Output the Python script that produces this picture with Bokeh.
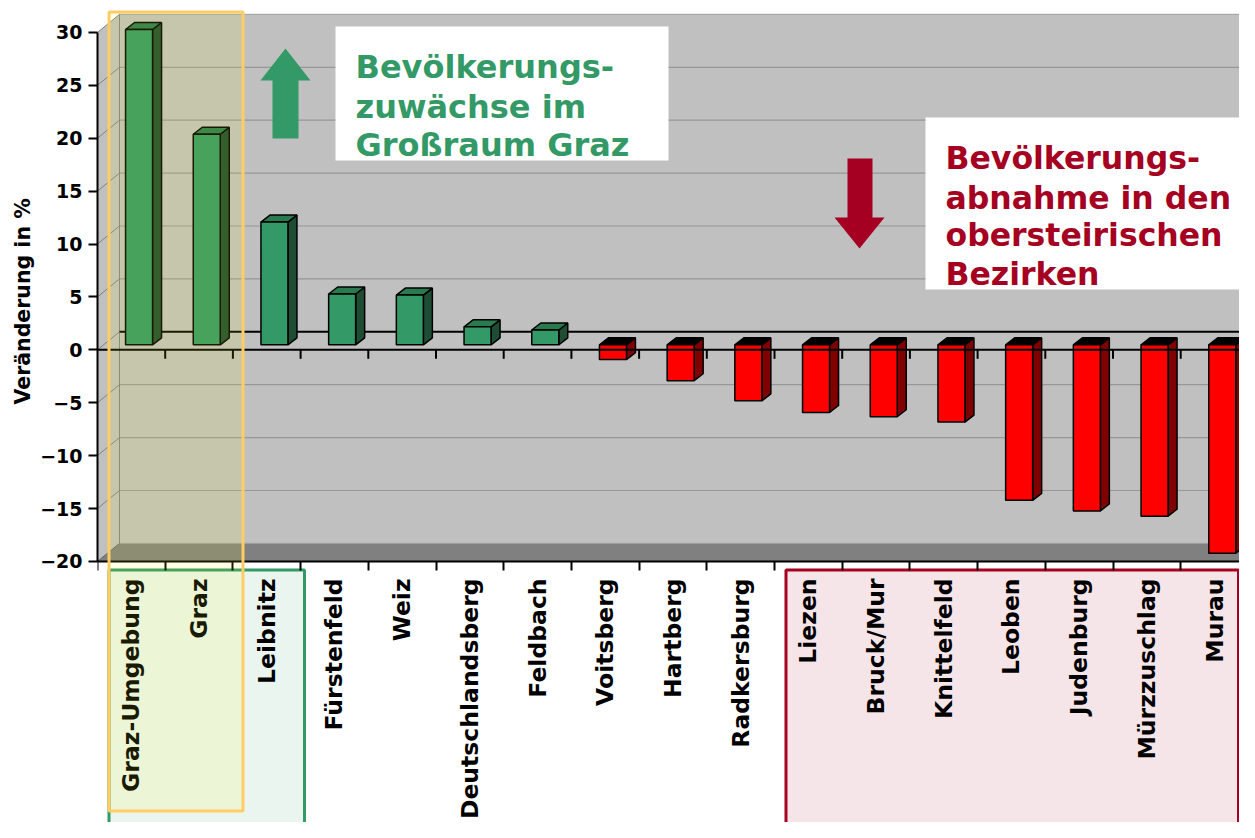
import math
from bokeh.plotting import figure
from bokeh.models import Range1d, FixedTicker, BoxAnnotation, Title
from bokeh.embed import file_html
from bokeh.resources import INLINE
from bokeh.core.properties import value

# ---------------- data ----------------
districts = ["Graz-Umgebung", "Graz", "Leibnitz", "Fürstenfeld", "Weiz",
             "Deutschlandsberg", "Feldbach", "Voitsberg", "Hartberg",
             "Radkersburg", "Liezen", "Bruck/Mur", "Knittelfeld", "Leoben",
             "Judenburg", "Mürzzuschlag", "Murau"]
change_pct = [29.8, 19.9, 11.6, 4.8, 4.7, 1.7, 1.4, -1.4, -3.4, -5.3,
              -6.4, -6.8, -7.3, -14.7, -15.7, -16.2, -19.7]
y_ticks = [-20, -15, -10, -5, 0, 5, 10, 15, 20, 25, 30]
y_title = "Veränderung in %"
text_growth = ["Bevölkerungs-", "zuwächse im", "Großraum Graz"]
text_decline = ["Bevölkerungs-", "abnahme in den", "obersteirischen", "Bezirken"]

GREEN = "#339966"
GREEN_SIDE = "#1E4D33"
GREEN_TOP = "#2A7A50"
RED = "#FF0000"
RED_SIDE = "#800000"
CRIMSON = "#A50021"
FONT_NAME = "DejaVu Sans"
FONT = value(FONT_NAME)

# ---------------- geometry helpers (layout pixels -> data) ----------------
PXC = 67.7      # px per category
PXV = 10.58     # px per percent
def X(px):
    return -0.5 + (px - 97) / PXC
def Y(py):
    return (349.3 - py) / PXV

W, H = 1239, 822
n = len(districts)
XR = n + 1.0                       # far right (clipped)
wall_dx, wall_dy = 22 / PXC, 18 / PXV
bar_off, bar_half = 7.7 / PXC, 13.5 / PXC
bar_dx, bar_dy = 9 / PXC, 7 / PXV
bar_base = 5 / PXV

p = figure(frame_width=W - 97, frame_height=H,
           x_range=Range1d(-0.5, X(W)), y_range=Range1d(Y(H), Y(0)),
           output_backend="svg", toolbar_location=None,
           min_border_left=97, min_border_right=0, min_border_top=0,
           min_border_bottom=0)
p.xgrid.visible = False
p.ygrid.visible = False
p.outline_line_color = None
p.background_fill_color = "white"
p.border_fill_color = "white"

# ---------------- highlight frames below the axis ----------------
p.add_layout(BoxAnnotation(left=X(108.5), right=X(304), top=Y(569.5), bottom=Y(900),
                           fill_color=GREEN, fill_alpha=0.1,
                           line_color=GREEN, line_alpha=1.0, line_width=3,
                           level="underlay"))
p.add_layout(BoxAnnotation(left=X(785.5), right=X(1238), top=Y(569.5), bottom=Y(900),
                           fill_color=CRIMSON, fill_alpha=0.1,
                           line_color=CRIMSON, line_alpha=1.0, line_width=3,
                           level="underlay"))

# ---------------- 3D walls ----------------
wl = -0.5 + wall_dx
p.quad(left=[wl], right=[XR], bottom=[-20 + wall_dy], top=[30 + wall_dy],
       fill_color="#C0C0C0", line_color=None)
p.patch([-0.5, -0.5, wl, wl], [-20, 30, 30 + wall_dy, -20 + wall_dy],
        fill_color="#C0C0C0", line_color=None)
p.patch([-0.5, XR, XR, wl], [-20, -20, -20 + wall_dy, -20 + wall_dy],
        fill_color="#808080", line_color=None)
p.segment(x0=[wl], y0=[-20 + wall_dy], x1=[wl], y1=[30 + wall_dy],
          line_color="#808080", line_width=1)
p.segment(x0=[wl], y0=[-20 + wall_dy], x1=[XR], y1=[-20 + wall_dy],
          line_color="#9A9A9A", line_width=1)
p.segment(x0=[-0.5], y0=[-20], x1=[wl], y1=[-20 + wall_dy],
          line_color="#606060", line_width=1)

grid_v = [v for v in y_ticks if v not in (-20, 0)]
p.segment(x0=[wl] * len(grid_v), y0=[v + wall_dy for v in grid_v],
          x1=[XR] * len(grid_v), y1=[v + wall_dy for v in grid_v],
          line_color="#6E6E6E", line_width=1.2, line_dash="1 1")
side_v = [v for v in y_ticks if v != -20]
p.segment(x0=[-0.5] * len(side_v), y0=side_v,
          x1=[wl] * len(side_v), y1=[v + wall_dy for v in side_v],
          line_color="#808080", line_width=1)
# back zero line
p.segment(x0=[wl], y0=[wall_dy], x1=[XR], y1=[wall_dy],
          line_color="black", line_width=2)

# ---------------- 3D bars ----------------
front_xs, front_ys, front_c = [], [], []
top_xs, top_ys, top_c = [], [], []
side_xs, side_ys, side_c = [], [], []
for i, v in enumerate(change_pct):
    xl = i + bar_off - bar_half
    xr = i + bar_off + bar_half
    y0 = bar_base
    y1 = bar_base + v
    lo, hi = min(y0, y1), max(y0, y1)
    pos = v >= 0
    front_xs.append([xl, xr, xr, xl]); front_ys.append([lo, lo, hi, hi])
    front_c.append(GREEN if pos else RED)
    side_xs.append([xr, xr + bar_dx, xr + bar_dx, xr])
    side_ys.append([lo, lo + bar_dy, hi + bar_dy, hi])
    side_c.append(GREEN_SIDE if pos else RED_SIDE)
    top_xs.append([xl, xr, xr + bar_dx, xl + bar_dx])
    top_ys.append([hi, hi, hi + bar_dy, hi + bar_dy])
    top_c.append(GREEN_TOP if pos else "#000000")

p.patches(side_xs, side_ys, fill_color=side_c, line_color="black", line_width=1.5)
p.patches(top_xs, top_ys, fill_color=top_c, line_color="black", line_width=1.5)
p.patches(front_xs, front_ys, fill_color=front_c, line_color="black", line_width=1.5)

# front zero line with category ticks
p.segment(x0=[-0.5], y0=[0], x1=[XR], y1=[0], line_color="black", line_width=2)
tick_x = [i + 0.5 for i in range(n)]
p.segment(x0=tick_x, y0=[0] * n, x1=tick_x, y1=[-9 / PXV] * n,
          line_color="black", line_width=2)

# ---------------- call-out boxes and arrows ----------------
p.quad(left=[X(335)], right=[X(668)], top=[Y(26)], bottom=[Y(160)],
       fill_color="white", line_color=None)
p.quad(left=[X(925)], right=[XR], top=[Y(117)], bottom=[Y(289)],
       fill_color="white", line_color=None)
p.text(x=[X(355)] * 3, y=[Y(66.7), Y(106), Y(144.5)], text=text_growth,
       text_font=FONT, text_font_size="32px", text_font_style="bold",
       text_color=GREEN, text_baseline="alphabetic", text_align="left")
p.text(x=[X(945)] * 4, y=[Y(157), Y(197), Y(234.5), Y(273)], text=text_decline,
       text_font=FONT, text_font_size="31.5px", text_font_style="bold",
       text_color=CRIMSON, text_baseline="alphabetic", text_align="left")

up = [(272, 138), (272, 80), (260, 80), (285, 48), (310, 80), (298, 80), (298, 138)]
p.patch([X(a) for a, b in up], [Y(b) for a, b in up], fill_color=GREEN, line_color=None)
down = [(847, 158), (872, 158), (872, 217), (884, 217), (859, 248), (834, 217), (847, 217)]
p.patch([X(a) for a, b in down], [Y(b) for a, b in down], fill_color=CRIMSON, line_color=None)

# yellow highlight over Graz region
p.add_layout(BoxAnnotation(left=X(108.5), right=X(242.5), top=Y(11.5), bottom=Y(810.5),
                           fill_color="#FFFF00", fill_alpha=0.1,
                           line_color="#FFCC66", line_alpha=1.0, line_width=3,
                           level="overlay"))

# ---------------- axes ----------------
ya = p.yaxis[0]
ya.ticker = FixedTicker(ticks=y_ticks)
ya.bounds = (-20, 30)
ya.axis_line_width = 2
ya.major_tick_out = 9
ya.major_tick_in = 0
ya.major_tick_line_width = 2
ya.minor_tick_out = 0
ya.minor_tick_in = 0
ya.major_label_standoff = 6
ya.major_label_text_font = FONT_NAME
ya.major_label_text_font_size = "19px"
ya.major_label_text_font_style = "bold"
ya.major_label_text_color = "black"

p.add_layout(Title(text=y_title, align="left", offset=418, standoff=6,
                   text_font=FONT_NAME, text_font_size="20.5px",
                   text_font_style="bold", text_color="black"), "left")

xa = p.xaxis[0]
xa.fixed_location = -20
xa.ticker = FixedTicker(ticks=list(range(n)), minor_ticks=[i - 0.5 for i in range(n + 1)])
xa.major_label_overrides = {i: d for i, d in enumerate(districts)}
xa.major_label_orientation = math.pi / 2
xa.axis_line_width = 2
xa.major_tick_out = 0
xa.major_tick_in = 0
xa.minor_tick_out = 9
xa.minor_tick_in = 0
xa.minor_tick_line_width = 2
xa.major_label_standoff = 8
xa.major_label_text_font = FONT_NAME
xa.major_label_text_font_size = "23.5px"
xa.major_label_text_font_style = "bold"
xa.major_label_text_color = "black"

open("out.html", "w").write(file_html(p, INLINE))
